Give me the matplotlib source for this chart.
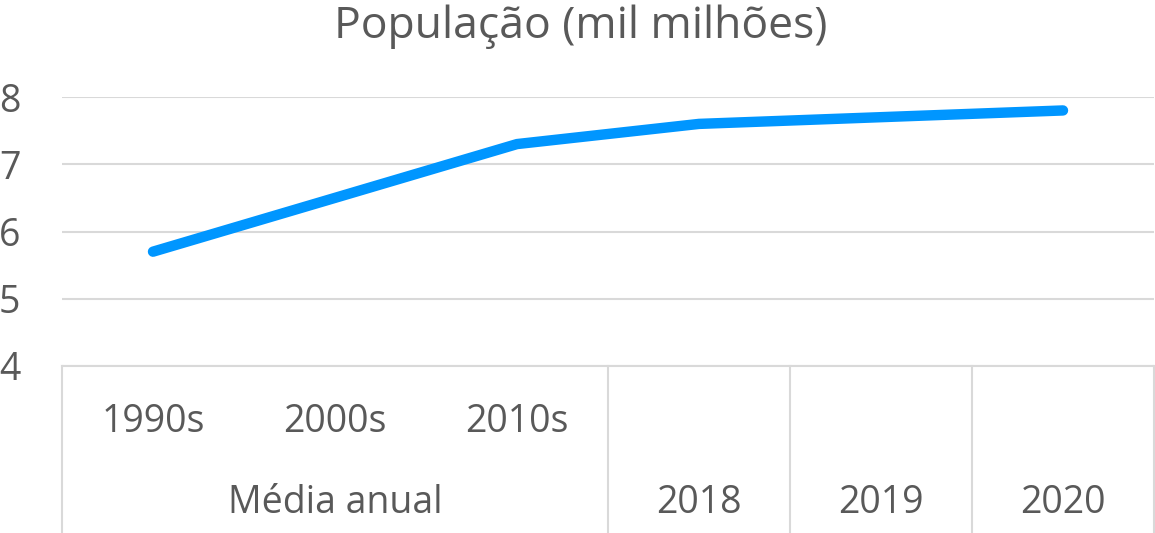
import numpy as np
import matplotlib.pyplot as plt
from matplotlib.transforms import blended_transform_factory

# data
periods = ['1990s', '2000s', '2010s', '2018', '2019', '2020']
inner_labels = ['1990s', '2000s', '2010s', '', '', '']
population = [5.7, 6.5, 7.3, 7.6, 7.7, 7.8]

group_spans = [('Média anual', 0, 2), ('2018', 3, 3), ('2019', 4, 4), ('2020', 5, 5)]

plt.rcParams['font.family'] = ['Open Sans', 'DejaVu Sans']
txt = '#595959'
grid = '#D9D9D9'

W, H = 1155, 533
fig = plt.figure(figsize=(W / 100, H / 100), dpi=100)
left, right, top, bottom = 62, 1154, 97, 366
ax = fig.add_axes([left / W, 1 - bottom / H, (right - left) / W, (bottom - top) / H])

x = np.arange(len(periods))
ax.plot(x, population, color='#0096FF', lw=7.5, solid_capstyle='round', solid_joinstyle='round', zorder=3)

ax.set_xlim(-0.5, len(periods) - 0.5)
ax.set_ylim(4, 8)
ax.set_yticks([4, 5, 6, 7, 8])
ax.tick_params(axis='y', length=0, pad=30, labelsize=27, labelcolor=txt)
ax.set_xticks([])
ax.grid(axis='y', color=grid, lw=1.5)
ax.set_axisbelow(True)
for s in ['top', 'right', 'left']:
    ax.spines[s].set_visible(False)
ax.spines['bottom'].set_color(grid)
ax.spines['bottom'].set_linewidth(1.5)

# multi-level category axis
tr = blended_transform_factory(ax.transData, ax.transAxes)
h = bottom - top
y_lo = -(H - bottom) / h
for xs in [-0.5, 2.5, 3.5, 4.5, 5.5]:
    ax.plot([xs, xs], [0, y_lo], transform=tr, color=grid, lw=1.5, clip_on=False)

y1 = -(422 - bottom) / h
y2 = -(503 - bottom) / h
for i, lab in enumerate(inner_labels):
    if lab:
        ax.text(i, y1, lab, transform=tr, ha='center', va='center', fontsize=27, color=txt)
for lab, a, b in group_spans:
    ax.text((a + b) / 2, y2, lab, transform=tr, ha='center', va='center', fontsize=27, color=txt)

fig.text(0.503, 1 - 27 / H, 'População (mil milhões)', ha='center', va='center', fontsize=32, color=txt)

fig.savefig('out.png', dpi=100)
